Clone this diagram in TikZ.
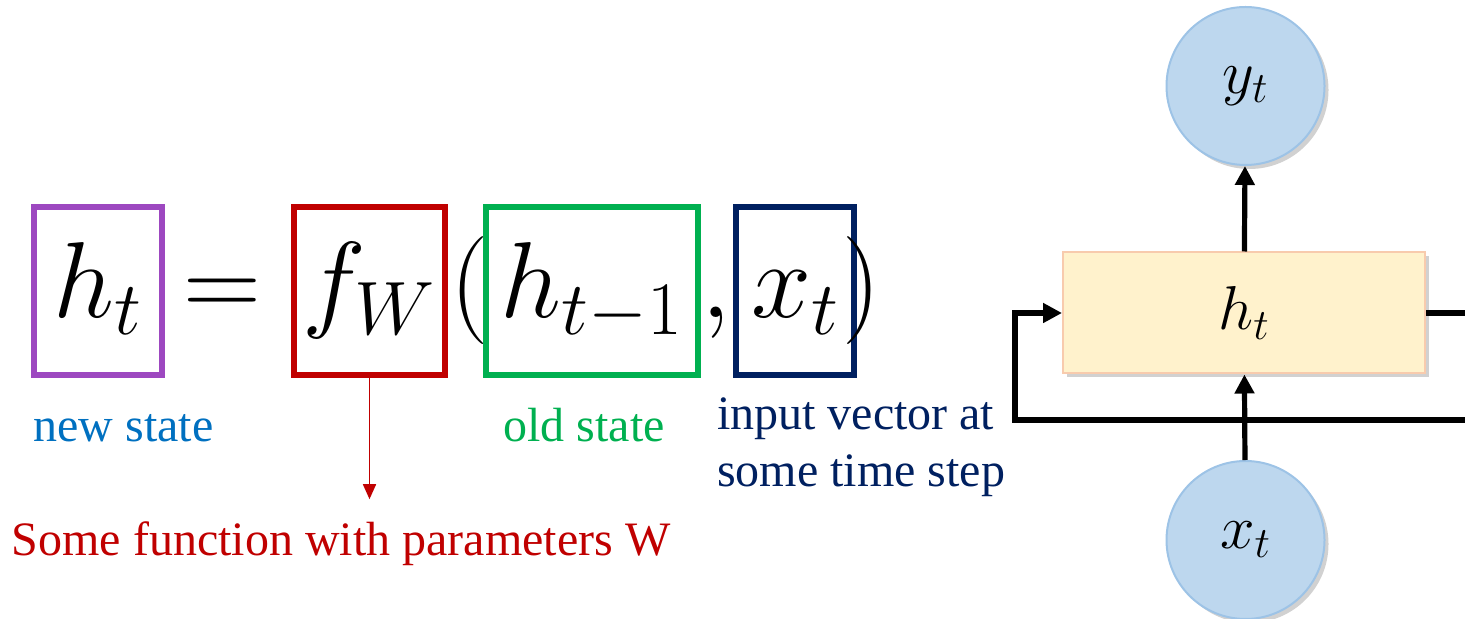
\RequirePackage{fix-cm}
\documentclass[tikz,border=0pt]{standalone}
\usepackage{fontspec}
\setmainfont{Liberation Serif}
\usetikzlibrary{arrows.meta,shadows}
\definecolor{newstate}{RGB}{0,112,192}
\definecolor{oldstate}{RGB}{0,176,80}
\definecolor{inputnavy}{RGB}{0,32,96}
\definecolor{fnred}{RGB}{192,0,0}
\definecolor{statepurple}{RGB}{157,72,192}
\definecolor{nodeblue}{RGB}{189,215,238}
\definecolor{nodeblueline}{RGB}{157,195,230}
\definecolor{cellfill}{RGB}{255,242,204}
\definecolor{cellline}{RGB}{248,203,173}

\begin{document}
\begin{tikzpicture}[
  x=0.5pt, y=-0.5pt,
  eqpart/.style={font=\fontsize{54}{60}\selectfont, inner sep=0pt, outer sep=0pt, text height=40pt, text depth=13pt},
  termbox/.style={eqpart, draw, line width=2.8pt, minimum height=84pt},
  note/.style={font=\fontsize{24}{28.5}\selectfont, inner sep=0pt, outer sep=0pt},
  softshadow/.style={drop shadow={shadow xshift=2pt, shadow yshift=-2pt, opacity=0.3, fill=black!60}},
  unit/.style={circle, draw=nodeblueline, line width=1pt, fill=nodeblue, minimum size=79pt, inner sep=0pt, font=\fontsize{31}{36}\selectfont, softshadow},
  cell/.style={rectangle, draw=cellline, line width=1pt, fill=cellfill, minimum width=181pt, minimum height=60.5pt, font=\fontsize{31}{36}\selectfont, softshadow},
  flow/.style={-{Triangle[length=9.5pt,width=9.5pt]}, line width=2.6pt},
  fnarr/.style={-{Triangle[length=7.5pt,width=6.5pt]}, draw=fnred, line width=0.8pt, shorten >=11pt}
]
  \useasboundingbox (0,0) rectangle (1465,619);
  \clip (0,0) rectangle (1465,619);

  % equation
  \node[termbox, draw=statepurple, minimum width=64pt] (newbox) at (98,291) {$h_t$};
  \node[eqpart] (eq) at (222,291) {$=$};
  \node[termbox, draw=fnred, minimum width=75.5pt] (fwbox) at (369.5,291) {$f_W$};
  \node[eqpart] (lparen) at (470,291) {$($};
  \node[termbox, draw=oldstate, minimum width=106pt] (oldbox) at (592,291) {$h_{t-1}$};
  \node[eqpart] (comma) at (716,291) {$,$};
  \node[termbox, draw=inputnavy, minimum width=59pt] (inbox) at (795,291) {$x_t$};
  \node[eqpart] (rparen) at (862,291) {$)$};

  % labels
  \node[note, text=newstate, anchor=base] (newlbl) at (123.5,442) {new state};
  \node[note, text=oldstate, anchor=base] (oldlbl) at (584,442) {old state};
  \node[note, text=inputnavy, anchor=base west, align=left] (inlbl) at (717,487) {input vector at\\some time step};
  \node[note, text=fnred, anchor=base] (fnlbl) at (341,555) {Some function with parameters W};
  \draw[fnarr] (fwbox.south) -- (fwbox.south |- fnlbl.north);

  % recurrent cell
  \node[unit] (ynode) at (1245.5,86) {$y_t$};
  \node[cell] (hnode) at (1244,313) {$h_t$};
  \node[unit] (xnode) at (1245.5,540) {$x_t$};
  \coordinate (loopr) at (1495,420);
  \coordinate (loopl) at (1015,420);

  \draw[flow] (hnode) -- (ynode);
  \draw[flow] (xnode) -- (hnode);
  \draw[flow] (hnode.east) -| (loopr) -- (loopl) |- (hnode.west);
\end{tikzpicture}
\end{document}
